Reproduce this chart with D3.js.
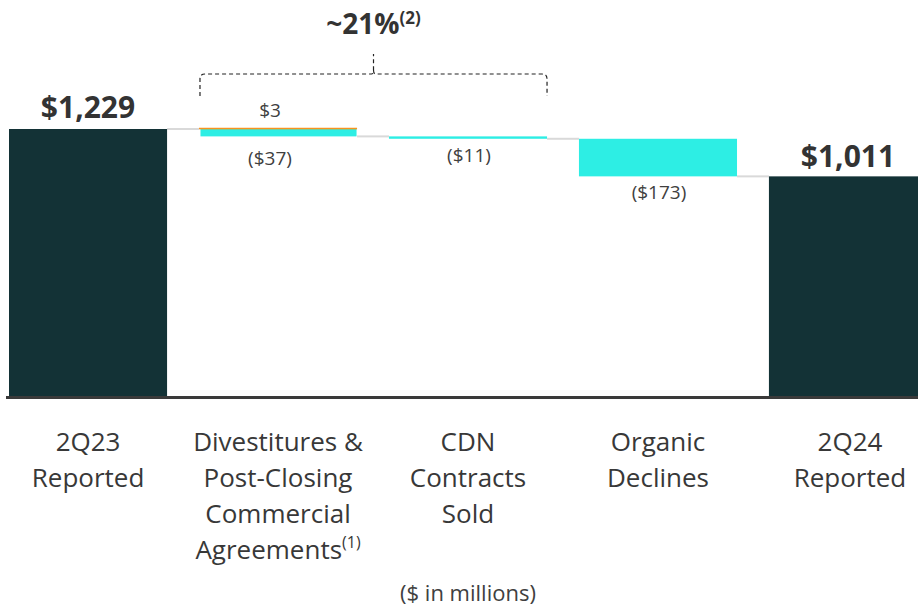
<!DOCTYPE html>
<html>
<head>
<meta charset="utf-8">
<script src="https://cdn.jsdelivr.net/npm/d3@7"></script>
<style>
  body { margin: 0; background: #fff; }
  svg { display: block; font-family: "Open Sans", "Noto Sans", sans-serif; }
</style>
</head>
<body>
<script>
// waterfall: 2Q23 -> 2Q24
var w = 918;
var h = 609;

var categories = ["2Q23 Reported", "Divestitures", "CDN", "Organic", "2Q24 Reported"];
var catLines = [
  ["2Q23", "Reported"],
  ["Divestitures &", "Post-Closing", "Commercial", "Agreements"],
  ["CDN", "Contracts", "Sold"],
  ["Organic", "Declines"],
  ["2Q24", "Reported"]
];
var startValue = 1229;
var endValue = 1011;
var increases = [0, 3, 0, 0, 0];      // orange part
var decreases = [0, -37, -11, -173, 0]; // cyan part
var valueLabels = ["$1,229", "$3 / ($37)", "($11)", "($173)", "$1,011"];

var svg = d3.select("body").append("svg")
            .attr("width", w)
            .attr("height", h);

var x = d3.scaleBand()
  .domain(categories)
  .range([9, 927])
  .paddingInner(0.168)
  .paddingOuter(0);

var y = d3.scaleLinear()
  .domain([0, startValue])
  .range([396, 129]);

// running totals for the steps
var steps = [];
var level = startValue;
categories.forEach(function(c, i) {
  var s = {cat: c, i: i};
  if (i == 0) { s.total = startValue; }
  else if (i == categories.length - 1) { s.total = endValue; }
  else {
    s.from = level;
    s.up = level + increases[i];
    s.to = level + increases[i] + decreases[i];
    level = s.to;
  }
  steps.push(s);
});

// connector lines between bars
var tops = [startValue];
steps.slice(1, 4).forEach(function(s) { tops.push(s.to); });
svg.selectAll("line.conn")
  .data(tops)
  .enter()
  .append("line")
  .attr("class", "conn")
  .attr("x1", function(d, i) { return x(categories[i]) + x.bandwidth(); })
  .attr("x2", function(d, i) { return x(categories[i + 1]); })
  .attr("y1", function(d) { return y(d); })
  .attr("y2", function(d) { return y(d); })
  .attr("stroke", "#d9d9d9")
  .attr("stroke-width", 2);

// totals
svg.selectAll("rect.total")
  .data(steps.filter(function(s) { return s.total != null; }))
  .enter()
  .append("rect")
  .attr("class", "total")
  .attr("x", function(d) { return x(d.cat); })
  .attr("y", function(d) { return y(d.total); })
  .attr("width", x.bandwidth())
  .attr("height", function(d) { return y(0) - y(d.total); })
  .attr("fill", "#133236");

var mid = steps.filter(function(s) { return s.total == null; });

// decreases (cyan)
svg.selectAll("rect.dec")
  .data(mid)
  .enter()
  .append("rect")
  .attr("class", "dec")
  .attr("x", function(d) { return x(d.cat) + (increases[d.i] ? 1.5 : 0); })
  .attr("y", function(d) { return y(d.from); })
  .attr("width", function(d) { return x.bandwidth() - (increases[d.i] ? 2 : 0); })
  .attr("height", function(d) { return Math.max(y(d.to) - y(d.from), 1.5); })
  .attr("fill", "#2deee4");

// increases (orange)
svg.selectAll("rect.inc")
  .data(mid.filter(function(d) { return increases[d.i] > 0; }))
  .enter()
  .append("rect")
  .attr("class", "inc")
  .attr("x", function(d) { return x(d.cat); })
  .attr("y", function(d) { return y(d.up) - 0.6; })
  .attr("width", x.bandwidth())
  .attr("height", function(d) { return Math.max(y(d.from) - y(d.up), 1.6); })
  .attr("fill", "#f7941d");

// baseline
svg.append("line")
  .attr("x1", 6).attr("x2", w)
  .attr("y1", y(0) + 1.5).attr("y2", y(0) + 1.5)
  .attr("stroke", "#3a3a3a")
  .attr("stroke-width", 3);

// value labels
svg.append("text").text(valueLabels[0])
  .attr("x", x(categories[0]) + x.bandwidth() / 2).attr("y", y(startValue) - 11)
  .attr("text-anchor", "middle").attr("font-size", 30).attr("font-weight", "bold")
  .attr("fill", "#333333");
svg.append("text").text(valueLabels[4])
  .attr("x", x(categories[4]) + x.bandwidth() / 2).attr("y", y(endValue) - 9)
  .attr("text-anchor", "middle").attr("font-size", 30).attr("font-weight", "bold")
  .attr("fill", "#333333");

var small = [
  {t: "$3", cat: 1, dx: -8, yy: y(steps[1].up) - 11},
  {t: "($37)", cat: 1, dx: -8, yy: y(steps[1].to) + 29},
  {t: "($11)", cat: 2, dx: 1, yy: y(steps[2].to) + 23},
  {t: "($173)", cat: 3, dx: 1, yy: y(steps[3].to) + 23}
];
svg.selectAll("text.val")
  .data(small)
  .enter()
  .append("text")
  .attr("class", "val")
  .text(function(d) { return d.t; })
  .attr("x", function(d) { return x(categories[d.cat]) + x.bandwidth() / 2 + d.dx; })
  .attr("y", function(d) { return d.yy; })
  .attr("text-anchor", "middle")
  .attr("font-size", 19)
  .attr("fill", "#404040");

// category labels
var lab = svg.selectAll("text.cat")
  .data(catLines)
  .enter()
  .append("text")
  .attr("class", "cat")
  .attr("text-anchor", "middle")
  .attr("font-size", 26)
  .attr("fill", "#383838")
  .attr("transform", function(d, i) {
    return "translate(" + (x(categories[i]) + x.bandwidth() / 2 + (i == 4 ? 2 : 0)) + ",451)";
  });
lab.each(function(lines, i) {
  var t = d3.select(this);
  lines.forEach(function(l, j) {
    t.append("tspan").attr("x", 0).attr("y", j * 36).text(l);
    if (i == 1 && j == 3) {
      t.append("tspan").attr("dy", -11).attr("font-size", 16).text("(1)");
    }
  });
});

// units note
svg.append("text").text("($ in millions)")
  .attr("x", 468).attr("y", 601)
  .attr("text-anchor", "middle").attr("font-size", 22).attr("fill", "#404040");

// bracket over the middle steps
var bx0 = x(categories[1]) + 1;
var bx1 = x(categories[2]) + x.bandwidth();
var bm = (bx0 + bx1) / 2;
var r = 5;
svg.append("path")
  .attr("d", "M" + bx0 + ",96 V" + (74 + r) + " Q" + bx0 + ",74 " + (bx0 + r) + ",74 H" + (bm - 2) +
             " Q" + bm + ",74 " + bm + ",70 V54 M" + bm + ",70 Q" + bm + ",74 " + (bm + 2) + ",74 H" + (bx1 - r) +
             " Q" + bx1 + ",74 " + bx1 + "," + (74 + r) + " V96")
  .attr("fill", "none")
  .attr("stroke", "#222")
  .attr("stroke-width", 1.2)
  .attr("stroke-dasharray", "4,3");

var title = svg.append("text")
  .attr("x", bm).attr("y", 34)
  .attr("text-anchor", "middle")
  .attr("font-size", 28).attr("font-weight", "bold").attr("fill", "#333333");
title.append("tspan").text("~21%");
title.append("tspan").attr("dy", -10).attr("font-size", 17).text("(2)");
</script>
</body>
</html>
